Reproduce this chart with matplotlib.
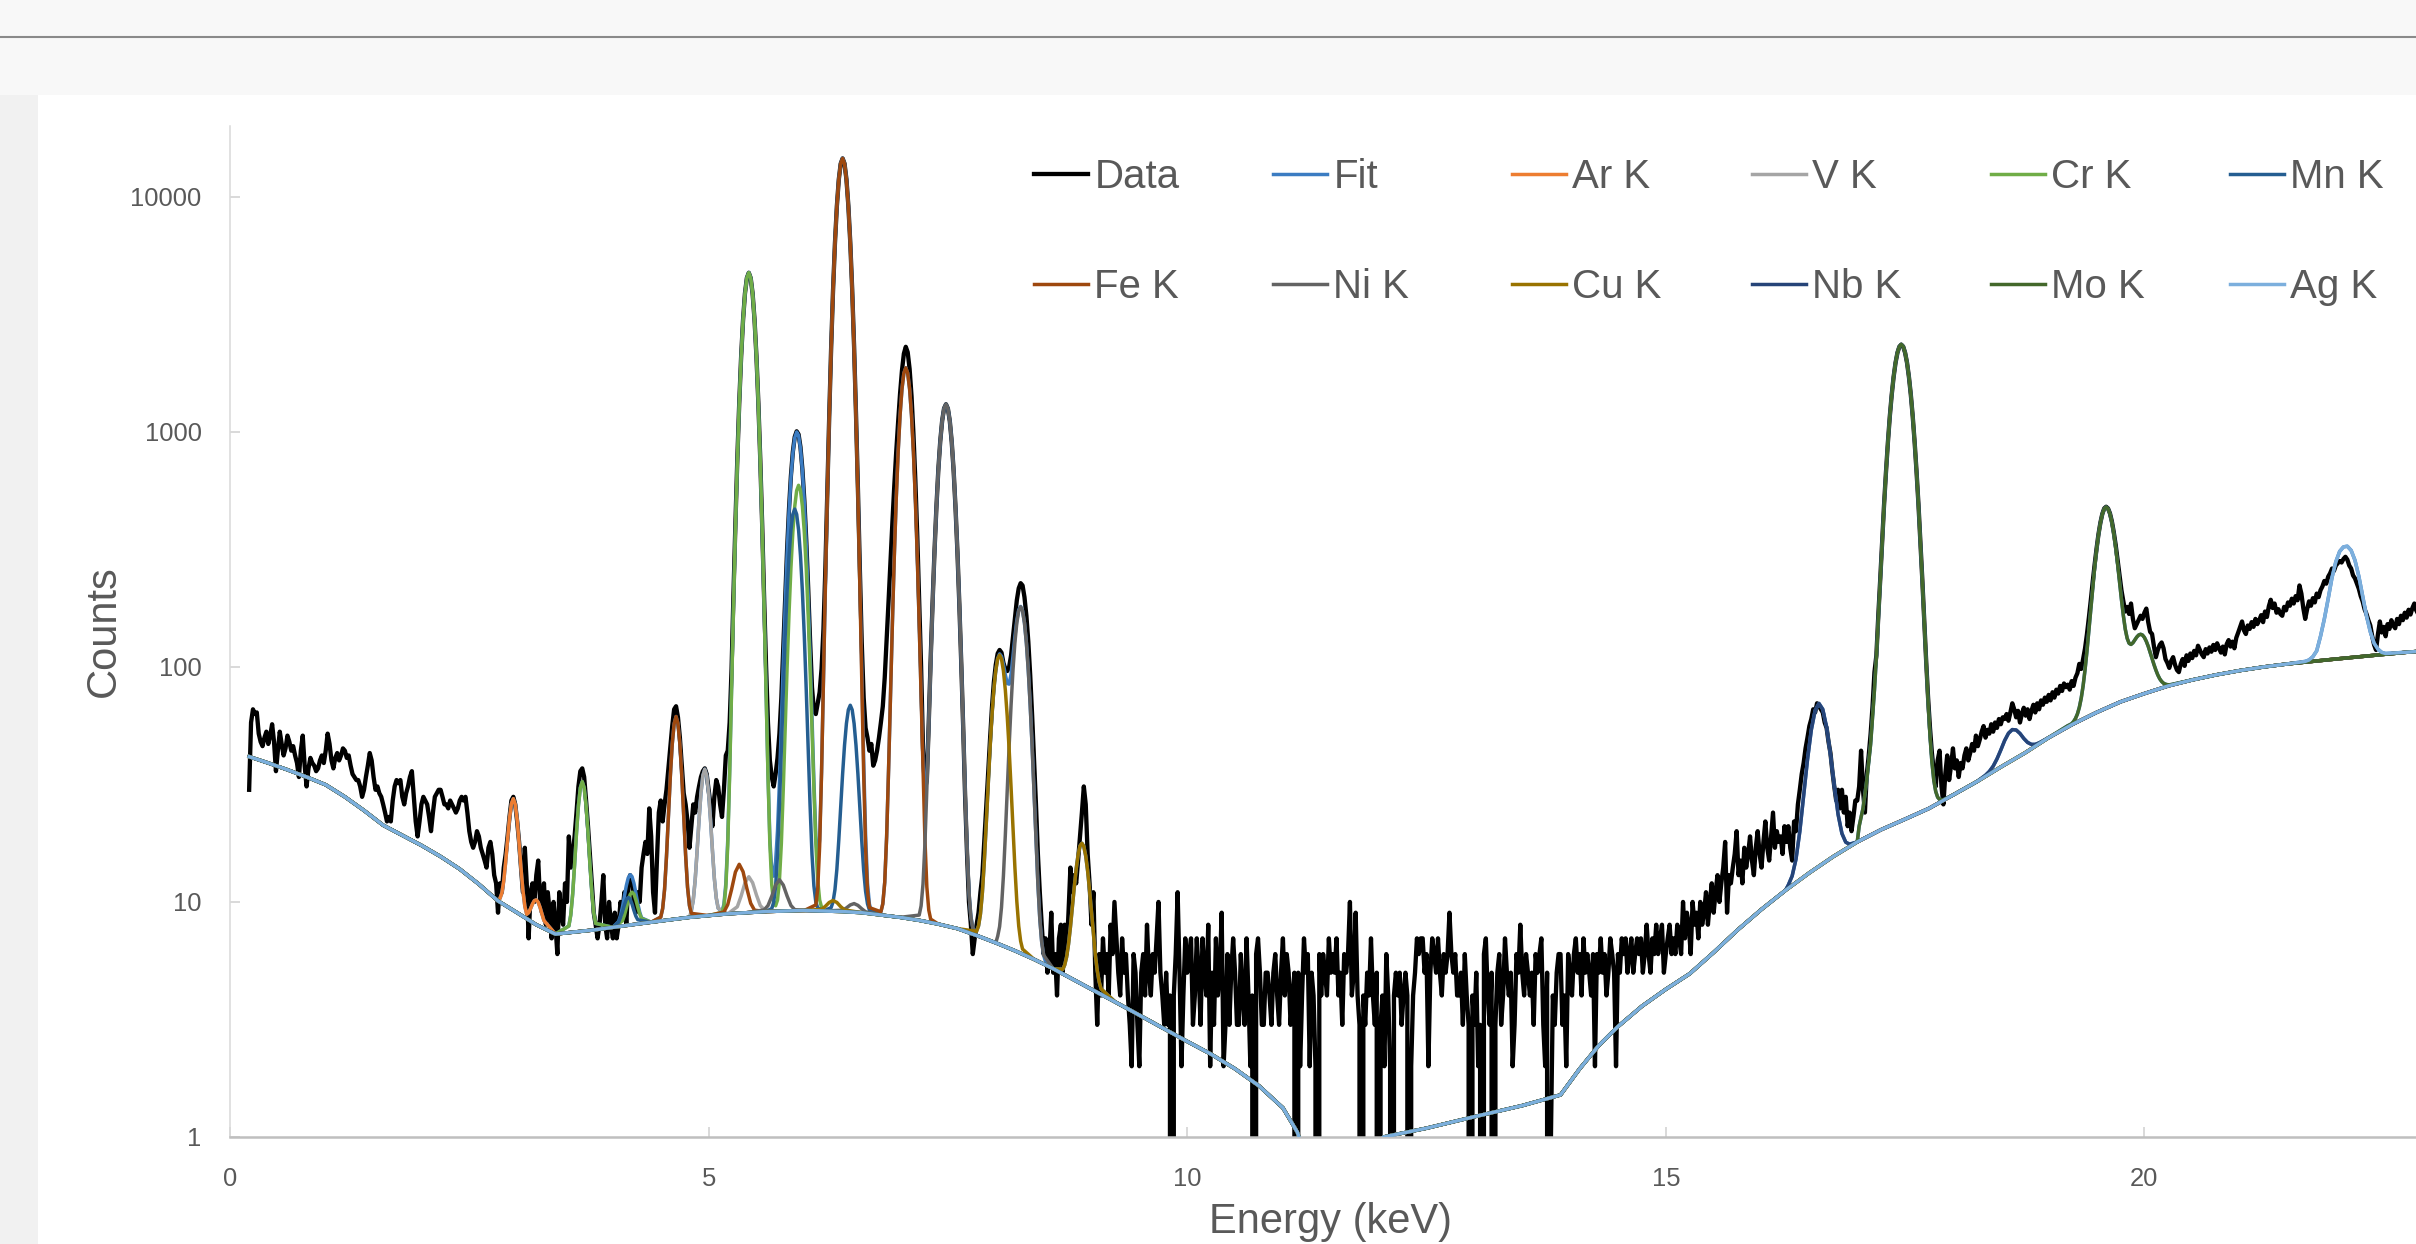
import numpy as np
import matplotlib
matplotlib.use("Agg")
import matplotlib.pyplot as plt
from matplotlib.lines import Line2D
from matplotlib.patches import Rectangle
from matplotlib.ticker import FixedLocator, FixedFormatter, NullLocator

plt.rcParams['font.family'] = ['Liberation Sans', 'DejaVu Sans']

# ---------------- measured spectrum (counts per 0.02 keV channel, from 0.20 keV) ----------------
channel_start_kev = 0.20
channel_width_kev = 0.02
counts = [
    30, 58, 66, 63, 64, 52, 48, 46, 50, 53, 47, 51, 57, 48, 36, 44, 53, 47, 42, 45, 51, 48, 44, 46, 42,
    39, 34, 44, 51, 38, 31, 37, 41, 39, 38, 36, 37, 40, 42, 39, 44, 52, 47, 40, 37, 41, 43, 40, 42, 45,
    44, 41, 42, 38, 35, 34, 33, 33, 31, 28, 30, 34, 38, 43, 40, 34, 30, 31, 29, 28, 26, 24, 22, 23, 22,
    27, 31, 33, 32, 33, 28, 26, 29, 31, 34, 36, 28, 22, 19, 22, 26, 28, 27, 26, 23, 20, 24, 28, 29, 30,
    30, 28, 26, 26, 25, 27, 26, 25, 24, 25, 27, 28, 27, 28, 24, 20, 18, 17, 18, 20, 19, 17, 16, 15, 14,
    17, 18, 16, 13, 12, 9, 12, 11, 14, 16, 19, 23, 27, 28, 26, 22, 18, 14, 11, 17, 12, 7, 11, 12, 10,
    13, 15, 10, 9, 12, 8, 11, 9, 7, 10, 8, 6, 11, 9, 8, 12, 10, 19, 14, 16, 19, 24, 31, 36, 37,
    34, 27, 21, 16, 12, 9, 8, 7, 8, 10, 13, 8, 7, 10, 8, 7, 9, 7, 8, 10, 9, 11, 8, 12, 13,
    12, 10, 9, 11, 10, 14, 16, 18, 16, 25, 19, 11, 9, 15, 24, 27, 22, 26, 30, 37, 46, 56, 66, 68, 61,
    50, 38, 29, 26, 22, 17, 21, 26, 24, 28, 31, 34, 36, 37, 35, 30, 26, 21, 28, 33, 31, 26, 23, 30, 42,
    44, 58, 98, 205, 405, 765, 1325, 2095, 2995, 3885, 4515, 4750, 4505, 3865, 2990, 2085, 1320, 758, 398, 196, 102, 58, 40, 34, 31,
    35, 41, 52, 74, 120, 198, 315, 470, 650, 822, 952, 1005, 975, 860, 692, 512, 347, 218, 130, 82, 65, 63, 70, 78, 98,
    145, 262, 560, 1160, 2262, 3990, 6345, 9120, 11835, 13825, 14560, 13840, 11865, 9165, 6395, 4035, 2302, 1188, 572, 262, 126, 74, 55, 50, 44,
    47, 38, 40, 44, 50, 58, 68, 90, 130, 190, 280, 410, 590, 820, 1100, 1450, 1820, 2150, 2300, 2180, 1850, 1420, 980, 620, 360,
    190, 100, 45, 30, 33, 58, 108, 188, 310, 478, 690, 912, 1115, 1258, 1310, 1255, 1110, 905, 682, 472, 305, 182, 102, 55, 28,
    16, 10, 8, 6, 7, 8, 9, 11, 13, 18, 25, 35, 49, 67, 86, 102, 114, 118, 115, 104, 98, 96, 100, 112, 134,
    162, 192, 216, 227, 222, 198, 165, 128, 92, 62, 40, 26, 16, 11, 8, 6, 7, 5, 6, 9, 5, 6, 4, 7, 8,
    5, 8, 6, 9, 14, 11, 13, 12, 15, 19, 24, 31, 26, 16, 12, 8, 11, 5, 3, 6, 4, 7, 5, 6, 4,
    8, 6, 10, 7, 5, 4, 7, 5, 6, 4, 3, 2, 6, 5, 3, 2, 5, 6, 4, 8, 5, 4, 6, 5, 7,
    10, 5, 4, 3, 5, 3, 4, 0, 4, 6, 11, 5, 2, 4, 7, 5, 6, 7, 3, 4, 7, 5, 3, 7, 5,
    4, 8, 2, 5, 3, 7, 4, 5, 9, 2, 3, 6, 3, 5, 7, 5, 3, 3, 6, 4, 3, 7, 4, 2, 4,
    0, 6, 7, 5, 3, 3, 5, 5, 4, 3, 5, 6, 4, 3, 5, 7, 4, 6, 5, 3, 4, 5, 0, 5, 2,
    4, 7, 5, 6, 2, 5, 4, 2, 0, 6, 4, 6, 5, 4, 7, 5, 6, 5, 7, 4, 5, 3, 6, 5, 6,
    10, 4, 5, 9, 4, 3, 0, 4, 3, 5, 4, 7, 4, 3, 5, 0, 3, 4, 2, 6, 4, 2, 0, 4, 5,
    4, 5, 3, 4, 5, 4, 0, 2, 4, 5, 7, 6, 7, 7, 5, 6, 2, 5, 7, 6, 5, 7, 5, 4, 6,
    5, 6, 9, 6, 5, 6, 4, 4, 5, 3, 6, 4, 3, 0, 4, 3, 5, 2, 3, 0, 6, 7, 4, 3, 5,
    0, 3, 5, 6, 3, 4, 7, 5, 4, 5, 2, 3, 6, 5, 8, 5, 4, 6, 5, 4, 5, 3, 6, 5, 6,
    7, 3, 2, 5, 0, 1, 4, 3, 5, 6, 6, 3, 4, 2, 6, 5, 4, 6, 7, 5, 6, 4, 7, 5, 6,
    5, 4, 6, 2, 6, 5, 7, 5, 6, 4, 5, 7, 6, 5, 2, 6, 5, 7, 6, 7, 5, 6, 7, 5, 6,
    7, 6, 7, 5, 6, 8, 6, 5, 7, 6, 8, 6, 7, 8, 5, 6, 7, 8, 6, 7, 6, 8, 7, 6, 10,
    7, 9, 8, 6, 10, 8, 9, 7, 10, 8, 9, 11, 8, 10, 12, 9, 11, 13, 10, 12, 14, 18, 9, 13, 12,
    14, 16, 20, 13, 15, 12, 17, 14, 16, 19, 15, 13, 17, 20, 16, 14, 18, 22, 17, 15, 19, 24, 17, 20, 18,
    19, 16, 21, 18, 21, 17, 15, 22, 20, 26, 30, 35, 39, 45, 50, 56, 60, 66, 64, 70, 68, 66, 64, 58, 55,
    48, 43, 36, 31, 27, 30, 25, 30, 24, 28, 21, 24, 20, 23, 27, 27, 31, 44, 30, 24, 35, 42, 52, 68, 95,
    112, 165, 235, 342, 488, 672, 898, 1160, 1436, 1712, 1965, 2170, 2302, 2350, 2305, 2170, 1968, 1712, 1435, 1158, 899, 672, 488, 341, 234,
    158, 106, 74, 55, 43, 36, 31, 40, 44, 31, 26, 35, 42, 33, 38, 45, 37, 40, 34, 39, 37, 42, 45, 40, 43,
    47, 44, 51, 46, 49, 53, 56, 50, 54, 52, 57, 53, 58, 55, 60, 57, 61, 60, 63, 59, 64, 70, 66, 61, 65,
    58, 63, 67, 62, 66, 60, 65, 69, 64, 70, 66, 72, 69, 74, 71, 76, 72, 78, 74, 80, 77, 83, 79, 85, 82,
    84, 80, 87, 83, 90, 94, 103, 98, 108, 120, 138, 162, 192, 230, 272, 318, 366, 410, 447, 472, 480, 472, 450, 416, 374,
    330, 284, 245, 212, 190, 172, 180, 168, 186, 160, 146, 152, 158, 165, 160, 170, 177, 155, 141, 138, 122, 110, 118, 124, 127,
    120, 108, 104, 99, 106, 110, 102, 97, 95, 103, 108, 101, 112, 106, 114, 109, 117, 112, 123, 118, 113, 110, 119, 114, 121,
    116, 124, 118, 126, 120, 115, 122, 113, 125, 130, 122, 128, 120, 133, 140, 148, 156, 143, 138, 150, 145, 155, 148, 160, 152,
    158, 166, 155, 172, 163, 181, 193, 178, 186, 170, 176, 168, 165, 180, 174, 188, 182, 195, 186, 200, 192, 222, 205, 178, 160,
    176, 190, 182, 196, 188, 205, 198, 212, 220, 232, 226, 242, 250, 262, 256, 270, 276, 282, 278, 288, 294, 286, 270, 262, 245,
    238, 226, 215, 200, 190, 176, 168, 158, 150, 135, 124, 118, 138, 156, 140, 148, 135, 152, 145, 158, 150, 146, 160, 152, 165,
    158, 170, 162, 175, 167, 178, 186, 174, 168, 180, 172, 178, 170, 182, 175, 180, 176, 184, 178, 186, 180, 175, 183, 188, 181,
]

# ---------------- fitted background (read at knots) ----------------
bg_energy = [0.20, 0.40, 0.60, 0.80, 1.00, 1.20, 1.40, 1.60, 1.80, 2.00, 2.20, 2.40, 2.60, 2.80, 3.00,
             3.20, 3.40, 3.60, 3.80, 4.00, 4.20, 4.40, 4.60, 4.80, 5.00, 5.20, 5.40, 5.60, 5.80, 6.00,
             6.20, 6.40, 6.60, 6.80, 7.00, 7.20, 7.40, 7.60, 7.80, 8.00, 8.20, 8.40, 8.60, 8.80, 9.00,
             9.25, 9.50, 9.75, 10.00, 10.25, 10.50, 10.75, 11.00, 11.15, 11.30, 11.50, 11.80, 12.05,
             12.50, 13.00, 13.50, 13.90, 14.10, 14.30, 14.50, 14.75, 15.00, 15.25, 15.50, 15.75, 16.00,
             16.25, 16.50, 16.75, 17.00, 17.25, 17.50, 17.75, 18.00, 18.25, 18.50, 18.75, 19.00, 19.25,
             19.50, 19.75, 20.00, 20.25, 20.50, 20.75, 21.00, 21.25, 21.50, 21.75, 22.00, 22.25, 22.50,
             22.75, 23.00, 24.00, 25.00]
bg_counts = [41.5, 39.0, 36.5, 34.0, 31.5, 28.0, 24.5, 21.2, 19.2, 17.4, 15.6, 13.8, 11.9, 10.1, 9.0,
             8.0, 7.3, 7.45, 7.6, 7.8, 8.0, 8.2, 8.4, 8.6, 8.75, 8.9, 9.0, 9.1, 9.15, 9.2,
             9.15, 9.1, 9.0, 8.8, 8.6, 8.35, 8.05, 7.7, 7.2, 6.7, 6.2, 5.7, 5.2, 4.7, 4.25,
             3.75, 3.3, 2.9, 2.55, 2.25, 1.95, 1.65, 1.33, 1.05, 0.7, 0.5, 0.55, 1.0,
             1.09, 1.22, 1.36, 1.51, 1.95, 2.45, 2.95, 3.6, 4.25, 4.95, 6.1, 7.6, 9.3,
             11.2, 13.3, 15.6, 18.0, 20.3, 22.5, 25.0, 28.5, 32.5, 37.5, 43.0, 50.0, 57.0,
             64.0, 71.0, 77.0, 83.0, 88.0, 92.5, 96.5, 100.0, 103.0, 105.5, 108.0, 110.5, 113.0,
             115.5, 117.5, 122.0, 125.0]

# ---------------- component peak windows (total counts incl. background) ----------------
# windows on the 0.02 keV grid: (start energy, values)
AR_KA = (2.82, [10.35, 10.9, 12.3, 14.8, 18.45, 22.7, 26.2, 27.5, 26.0, 22.3, 17.8, 13.9, 11.2, 9.6, 8.86])
AR_KB = (3.12, [9.0, 9.37, 9.8, 10.13, 10.2, 9.96, 9.46, 8.86, 8.33])
V_KA = (4.82, [9.2, 10.2, 12.45, 16.5, 22.3, 29.0, 34.5, 36.7, 34.5, 29.05, 22.4, 16.6, 12.6, 10.4, 9.4])
CR_ESC_A = (3.54, [7.9, 8.8, 10.8, 14.4, 19.7, 25.7, 30.6, 32.5, 30.6, 25.7, 19.75, 14.5, 11.0, 9.0, 8.1])
CR_ESC_B = (4.10, [8.3, 8.75, 9.4, 10.1, 10.75, 11.0, 10.8, 10.2, 9.5, 8.9, 8.5])
CR_KA = (5.14, [9.03, 9.57, 11.53, 17.44, 35.0, 79.1, 180, 379, 740, 1305, 2074, 2980, 3863, 4513,
                4755, 4513, 3863, 2980, 2074, 1305, 740, 379, 180, 79.3, 35.2, 17.66, 11.78, 9.84])
CR_KB = (5.70, [9.63, 10.19, 12.34, 17.74, 30.15, 54.65, 99.15, 168.2, 263.2, 374.2, 482.2, 562.2, 592.2,
                562.2, 482.2, 374.2, 263.2, 168.2, 99.2, 54.7, 30.2, 17.8, 12.4, 10.2, 9.5])
MN_ESC = (4.06, [8.2, 8.6, 9.1, 9.7, 10.25, 10.46, 10.3, 9.8, 9.2, 8.7, 8.4])
MN_KA = (5.66, [9.38, 9.96, 11.66, 15.94, 25.74, 45.04, 79.95, 134.75, 209.15, 297.15, 382.66, 445.66, 469.17,
                445.67, 382.68, 297.18, 209.19, 134.8, 80.0, 45.09, 25.79, 15.98, 11.71, 10.0, 9.43])
MN_KB = (6.28, [9.46, 10.01, 11.27, 13.77, 18.31, 25.41, 35.0, 46.39, 57.48, 65.67, 68.66, 65.65, 57.44,
                46.33, 34.92, 25.31, 18.2, 13.63, 11.11, 9.82, 9.25])
FE_ESC_A = (4.50, [8.62, 9.37, 11.3, 15.6, 23.1, 34.2, 46.9, 57.3, 61.5, 57.4, 47.0, 34.3, 23.2, 15.8, 11.55, 9.65, 8.94])
FE_KA = (6.12, [9.71, 11.37, 17.26, 35.36, 89.15, 224.2, 532.1, 1143, 2249, 3979, 6334, 9109, 11819, 13809,
                14549, 13809, 11819, 9109, 6334, 3979, 2249, 1143, 532, 224, 89, 35.2, 17.06, 11.14, 9.46])
FE_KB = (6.80, [9.08, 9.82, 12.11, 18.94, 36.32, 75.7, 153.7, 295.7, 517.6, 818.6, 1174.6, 1521.6, 1776.6,
                1871.5, 1776.5, 1521.5, 1174.5, 818.4, 517.4, 295.4, 153.4, 75.3, 35.9, 18.46, 11.58, 9.24, 8.45])
NI_KA = (7.20, [8.79, 9.62, 11.93, 17.66, 30.23, 55.9, 103.77, 184.14, 307.11, 476.08, 686.05, 910.02, 1112.98,
                1256.95, 1308.91, 1256.87, 1112.84, 909.8, 685.77, 475.73, 306.7, 183.65, 103.2, 55.25, 29.5,
                16.85, 11.04, 8.65, 7.74])
NI_KB = (8.02, [7.14, 7.85, 9.49, 12.9, 19.25, 29.9, 46.35, 68.9, 96.95, 126.8, 153.85, 173.1, 180.05,
                173.0, 153.65, 126.5, 96.55, 68.4, 45.75, 29.2, 18.45, 12.0, 8.49, 6.75, 5.94])
CU_KA = (7.80, [7.5, 7.91, 8.89, 10.95, 14.8, 21.25, 31.2, 44.95, 61.9, 80.05, 96.4, 108.15, 112.3,
                108.05, 96.2, 79.75, 61.5, 44.45, 30.6, 20.55, 14.0, 10.05, 7.89, 6.81, 6.3])
CU_KB = (8.70, [5.17, 5.39, 5.83, 6.61, 7.82, 9.5, 11.55, 13.8, 15.86, 17.32, 17.77, 17.23, 15.68, 13.54,
                11.19, 9.05, 7.27, 5.97, 5.11, 4.58, 4.27])
MO_KB = (19.20, [56.2, 56.7, 57.3, 58.5, 60.3, 63.0, 67.2, 73.6, 83.2, 97.4, 116.8, 143.3, 176.8, 217.4, 264,
                 314, 363.6, 409, 445.7, 470, 478.8, 471.3, 447.9, 412.5, 369.2, 321.7, 274.2, 230.6, 194,
                 165.5, 144.8, 132.3, 126, 124.6, 126.6, 130.1, 133.9, 136.6, 137.6, 136.6, 133.4, 128.4,
                 122.3, 115.4, 108.6, 102.3, 96.9, 92.4, 89.0, 86.7, 85.2, 84.4, 84.0, 83.9, 84.1])

# windows given as (energy, counts) pairs
V_KB = [(5.30, 9.54), (5.34, 10.6), (5.38, 12.06), (5.42, 12.8), (5.46, 12.07), (5.50, 10.7), (5.54, 9.65)]
FE_ESC_B = [(5.16, 9.06), (5.20, 9.74), (5.24, 11.3), (5.28, 13.4), (5.32, 14.46), (5.36, 13.45),
            (5.40, 11.4), (5.44, 9.86), (5.48, 9.22)]
NI_ESC = [(5.58, 9.25), (5.62, 9.64), (5.66, 10.57), (5.70, 11.8), (5.74, 12.43), (5.78, 11.8),
          (5.82, 10.6), (5.86, 9.66), (5.90, 9.27)]
NI_KB_ESC = [(6.40, 9.22), (6.44, 9.43), (6.48, 9.71), (6.52, 9.84), (6.56, 9.67), (6.60, 9.35), (6.64, 9.08)]
CU_ESC = [(6.18, 9.3), (6.22, 9.58), (6.26, 9.95), (6.30, 10.14), (6.34, 9.95), (6.38, 9.55), (6.42, 9.25)]
NB_KA = [(16.28, 11.8), (16.32, 12.9), (16.36, 15.2), (16.40, 19.95), (16.44, 28.3), (16.48, 40.2),
         (16.52, 53.9), (16.56, 65.25), (16.60, 69.9), (16.64, 66.0), (16.68, 55.35), (16.72, 42.4),
         (16.76, 31.2), (16.80, 23.55), (16.84, 19.55), (16.88, 17.95), (16.92, 17.6)]
NB_KB = [(18.34, 34.6), (18.38, 35.9), (18.42, 37.8), (18.46, 40.6), (18.50, 44.3), (18.54, 48.6),
         (18.58, 52.2), (18.62, 54.1), (18.66, 53.9), (18.70, 52.1), (18.74, 49.6), (18.78, 47.7),
         (18.82, 46.8), (18.86, 46.8), (18.90, 47.5)]
MO_KA = [(17.02, 21), (17.06, 25), (17.10, 33), (17.14, 47), (17.18, 80), (17.20, 110), (17.22, 160),
         (17.24, 230), (17.26, 335.4), (17.28, 482.6), (17.30, 668.8), (17.32, 896), (17.34, 1157),
         (17.36, 1435), (17.38, 1714.5), (17.40, 1968.6), (17.42, 2173.8), (17.44, 2307), (17.46, 2354),
         (17.48, 2307.3), (17.50, 2174.5), (17.52, 1969.7), (17.54, 1716), (17.56, 1437), (17.58, 1159),
         (17.60, 898.5), (17.62, 671.7), (17.64, 485.9), (17.66, 339.1), (17.68, 232), (17.70, 155.5),
         (17.72, 104), (17.74, 71.1), (17.76, 51), (17.78, 39.4), (17.80, 32.9), (17.82, 29.5),
         (17.84, 27.9), (17.86, 27.3), (17.90, 27.2)]
AG_KA = [(21.68, 105.5), (21.72, 107), (21.76, 110.5), (21.80, 117), (21.84, 135), (21.88, 160),
         (21.92, 195), (21.96, 240), (22.00, 280), (22.04, 310), (22.08, 324), (22.12, 326), (22.16, 313),
         (22.20, 284), (22.24, 243), (22.28, 200), (22.32, 165), (22.36, 141), (22.40, 126), (22.44, 119),
         (22.48, 115.2), (22.52, 114.0)]

# total fit where peaks of different elements overlap (0.02 keV grid)
FIT_OVERLAP_A = (4.06, [8.26, 8.75, 9.52, 10.57, 11.71, 12.64, 13.06, 12.82, 12.01, 10.92, 9.86, 9.05, 8.55])
FIT_OVERLAP_B = (5.14, [
    9.11, 9.77, 11.96, 18.29, 36.5, 81.6, 183.5, 383.7, 745.8, 1311.5,
    2080.8, 2986.8, 3869.5, 4519, 4760.3, 4517.5, 3866.6, 2982.6, 2075.8, 1306.1,
    740.7, 379.4, 180.4, 79.6, 35.7, 18.58, 13.52, 12.87, 14.85, 20.12,
    32.24, 56.77, 103.6, 182.3, 300.6, 457.1, 637.2, 810.9, 942.3, 998.7,
    965.7, 850.2, 682.2, 499.8, 334, 204.1, 115.8, 61.5, 32.84, 19.14,
    14.84, 18.39, 35.84, 89.5, 224.6, 532.8, 1144, 2250.4, 3981, 6336.2,
    9114.6, 11829, 13826, 14575, 13847, 11868, 9166, 6394, 4036, 2298,
    1181, 558.6, 240.8, 98.55, 40.05, 19.33, 12.02, 9.79, 9.13, 8.88,
    8.86, 8.86, 8.89, 9.08, 9.82, 12.11, 18.94, 36.32, 75.7, 153.7,
    295.7, 517.6, 818.6, 1174.6, 1521.6, 1776.6, 1871.5, 1776.5, 1521.5, 1174.5,
    818.4, 517.4, 295.5, 153.8, 76.6, 39.5, 27.9, 33.6, 56.9, 104.1,
    184.2, 307.1, 476.1, 686, 910, 1113, 1257, 1309, 1257, 1113,
    910, 686, 476, 306.7, 183.7, 103.2, 55.25, 29.5, 16.85, 11.04,
    8.66, 7.78, 7.48, 7.54, 7.91, 8.89, 10.95, 14.8, 21.25, 31.2,
    44.95, 61.9, 80.1, 96.6, 108.6, 113.6, 111, 102.6, 92.55, 85,
    84.45, 93.2, 111.25, 134.6, 157.75, 174.9, 180.8, 173.3, 153.75, 126.5,
    96.55, 68.4, 45.75, 29.2, 18.45, 12.0, 8.49, 6.75, 5.94, 5.57])

series_names = ["Data", "Fit", "Ar K", "V K", "Cr K", "Mn K", "Fe K", "Ni K", "Cu K", "Nb K", "Mo K", "Ag K"]
series_colors = ["#000000", "#3b7cc2", "#ed7d31", "#a5a5a5", "#70ad47", "#255e91",
                 "#9e480e", "#636363", "#997300", "#264478", "#43682b", "#7cafdd"]
x_ticks = [0, 5, 10, 15, 20]
x_tick_labels = ["0", "5", "10", "15", "20"]
y_ticks = [1, 10, 100, 1000, 10000]
y_tick_labels = ["1", "10", "100", "1000", "10000"]


def grid(seg):
    start, vals = seg
    return [(round(start + channel_width_kev * i, 2), v) for i, v in enumerate(vals)]


def assemble(segments):
    segs = [s if isinstance(s, list) else grid(s) for s in segments]
    spans = [(s[0][0], s[-1][0]) for s in segs]
    pts = [p for s in segs for p in s]
    for e, c in zip(bg_energy, bg_counts):
        if not any(lo <= e <= hi for lo, hi in spans):
            pts.append((e, c))
    pts.sort(key=lambda p: p[0])
    return np.array([p[0] for p in pts]), np.array([p[1] for p in pts])


component_segments = {
    "Fit": [AR_KA, AR_KB, CR_ESC_A, FIT_OVERLAP_A, FE_ESC_A, V_KA, FIT_OVERLAP_B, CU_KB,
            NB_KA, MO_KA, NB_KB, MO_KB, AG_KA],
    "Ar K": [AR_KA, AR_KB],
    "V K": [V_KA, V_KB],
    "Cr K": [CR_ESC_A, CR_ESC_B, CR_KA, CR_KB],
    "Mn K": [MN_ESC, MN_KA, MN_KB],
    "Fe K": [FE_ESC_A, FE_ESC_B, FE_KA, FE_KB],
    "Ni K": [NI_ESC, NI_KB_ESC, NI_KA, NI_KB],
    "Cu K": [CU_ESC, CU_KA, CU_KB],
    "Nb K": [NB_KA, NB_KB],
    "Mo K": [MO_KA, MO_KB],
    "Ag K": [AG_KA],
}

# ---------------- figure ----------------
W, H = 2416, 1244
fig = plt.figure(figsize=(W / 100, H / 100), dpi=100)
fig.patch.set_facecolor("#f8f8f8")
fig.add_artist(Rectangle((0, 0), 38 / W, (H - 95) / H, transform=fig.transFigure,
                         facecolor="#f1f1f1", edgecolor="none", zorder=-5))
fig.add_artist(Rectangle((38 / W, 0), 1 - 38 / W, (H - 95) / H, transform=fig.transFigure,
                         facecolor="white", edgecolor="none", zorder=-5))
fig.add_artist(Line2D([0, 1], [1 - 36.5 / H] * 2, transform=fig.transFigure,
                      color="#8a8a8a", lw=1.5, zorder=-4))

x_max = 23
px_per_kev = 95.72
ax = fig.add_axes([230 / W, (H - 1137) / H, x_max * px_per_kev / W, (1137 - 126) / H])
ax.set_facecolor("none")

energy = channel_start_kev + channel_width_kev * np.arange(len(counts))
handles = {}
ln, = ax.plot(energy, np.array(counts, dtype=float), color=series_colors[0], lw=3.1,
              label="Data", zorder=2, solid_joinstyle="round")
handles["Data"] = ln
for k, name in enumerate(series_names[1:], start=1):
    ex, cy = assemble(component_segments[name])
    ln, = ax.plot(ex, cy, color=series_colors[k], lw=2.5, label=name, zorder=2 + 0.05 * k,
                  solid_joinstyle="round")
    handles[name] = ln

ax.set_yscale("log")
ax.set_xlim(0, x_max)
ax.set_ylim(1, 20000)
ax.xaxis.set_major_locator(FixedLocator(x_ticks))
ax.xaxis.set_major_formatter(FixedFormatter(x_tick_labels))
ax.yaxis.set_major_locator(FixedLocator(y_ticks))
ax.yaxis.set_major_formatter(FixedFormatter(y_tick_labels))
ax.yaxis.set_minor_locator(NullLocator())
ax.xaxis.set_minor_locator(NullLocator())
ax.tick_params(axis="both", direction="in", length=7.2, width=1.1, colors="#d0d0d0",
               labelcolor="#595959", labelsize=18.4)
ax.tick_params(axis="x", pad=21.5)
ax.tick_params(axis="y", pad=20.5)
for s in ("top", "right"):
    ax.spines[s].set_visible(False)
ax.spines["left"].set_color("#d9d9d9")
ax.spines["left"].set_linewidth(1.1)
ax.spines["bottom"].set_color("#bfbfbf")
ax.spines["bottom"].set_linewidth(1.8)

ax.set_xlabel("Energy (keV)", fontsize=30, color="#595959")
ax.xaxis.set_label_coords(0.5, -0.064)
ax.set_ylabel("Counts", fontsize=30, color="#595959")
ax.yaxis.set_label_coords(-0.048, 0.5)

# legend: two rows of six, equal column pitch
col_x_px = [1034, 1273, 1512, 1752, 1991, 2230]
for j, xp in enumerate(col_x_px):
    names = [series_names[j], series_names[j + 6]]
    fig.legend([handles[n] for n in names], names, loc="center left",
               bbox_to_anchor=(xp / W, 1 - 232 / H), bbox_transform=fig.transFigure,
               frameon=False, fontsize=29, labelcolor="#595959", handlelength=1.35,
               handletextpad=0.15, labelspacing=1.79, borderpad=0, borderaxespad=0)

fig.savefig("out.png", dpi=100, facecolor=fig.get_facecolor())
